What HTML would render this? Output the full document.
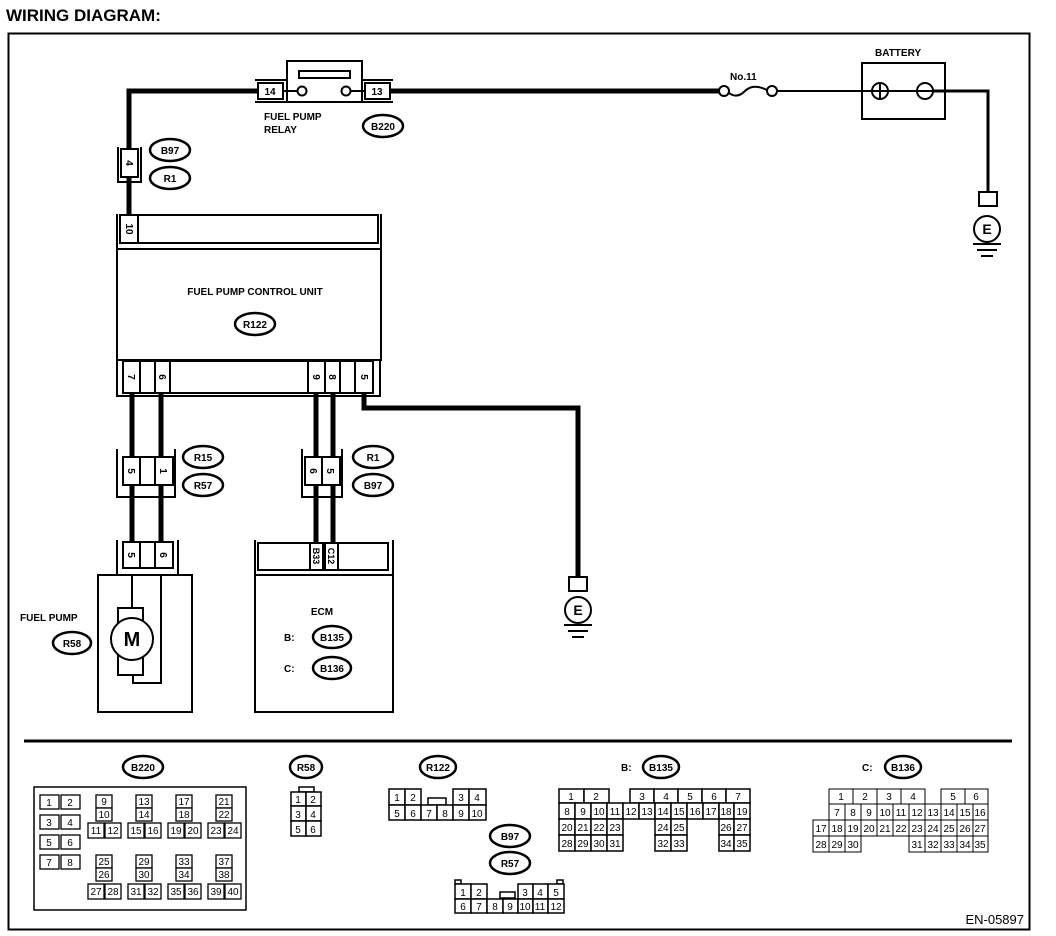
<!DOCTYPE html>
<html><head><meta charset="utf-8"><style>
html,body{margin:0;padding:0;background:#fff}
svg{display:block}
text{font-family:"Liberation Sans",sans-serif;font-weight:bold;fill:#000}
.c{font-size:10px;text-anchor:middle;font-weight:normal}
.o{font-size:10px;text-anchor:middle}
.l{font-size:10px}
</style></head><body>
<svg width="1056" height="936" viewBox="0 0 1056 936" xmlns="http://www.w3.org/2000/svg">
<text x="6" y="21" style="font-size:17px">WIRING DIAGRAM:</text>
<rect x="8.5" y="33.5" width="1021" height="896" fill="none" stroke="#000" stroke-width="2"/>
<line x1="24" y1="741" x2="1012" y2="741" stroke="#000" stroke-width="3"/>

<!-- main wires -->
<g stroke="#000" fill="none">
<polyline points="129,215 129,91 258,91" stroke-width="5"/>
<line x1="390" y1="91" x2="720" y2="91" stroke-width="5"/>
<line x1="776" y1="91" x2="926" y2="91" stroke-width="2"/>
<polyline points="926,91 988,91 988,193" stroke-width="3"/>
<line x1="132" y1="393" x2="132" y2="543" stroke-width="5"/>
<line x1="161" y1="393" x2="161" y2="543" stroke-width="5"/>
<line x1="316" y1="393" x2="316" y2="545" stroke-width="5"/>
<line x1="333" y1="393" x2="333" y2="545" stroke-width="5"/>
<polyline points="364,393 364,408 578,408 578,578" stroke-width="5"/>
</g>

<!-- relay -->
<g stroke="#000" fill="#fff" stroke-width="2">
<rect x="287" y="61" width="75" height="41"/>
<rect x="299" y="71" width="51" height="7" stroke-width="2"/>
<polyline points="255,80 286,80" fill="none"/>
<polyline points="255,102 286,102" fill="none"/>
<rect x="258" y="83" width="25" height="16"/>
<polyline points="363,80 393,80" fill="none"/>
<polyline points="363,102 393,102" fill="none"/>
<rect x="365" y="83" width="25" height="16"/>
<line x1="283" y1="91" x2="297" y2="91"/>
<line x1="350" y1="91" x2="365" y2="91"/>
<circle cx="302" cy="91" r="4.5"/>
<circle cx="346" cy="91" r="4.5"/>
</g>
<text class="c" x="270" y="95" style="font-weight:bold">14</text>
<text class="c" x="377" y="95" style="font-weight:bold">13</text>
<text class="l" x="264" y="120">FUEL PUMP</text>
<text class="l" x="264" y="133">RELAY</text>
<ellipse cx="383" cy="126" rx="20" ry="11" fill="#fff" stroke="#000" stroke-width="2.5"/>
<text class="o" x="383" y="130">B220</text>

<!-- fuse -->
<g stroke="#000" fill="#fff" stroke-width="2">
<circle cx="724" cy="91" r="5"/>
<circle cx="772" cy="91" r="5"/>
<path d="M729,93 Q737,99 745,91 Q753,83 767,90" fill="none"/>
</g>
<text class="l" x="730" y="80">No.11</text>

<!-- battery -->
<rect x="862" y="63" width="83" height="56" fill="none" stroke="#000" stroke-width="2"/>
<text class="l" x="875" y="56">BATTERY</text>
<g stroke="#000" fill="#fff" stroke-width="2">
<circle cx="880" cy="91" r="8"/>
<line x1="872" y1="91" x2="888" y2="91"/><line x1="880" y1="83" x2="880" y2="99"/>
<circle cx="925" cy="91" r="8"/>
<line x1="917" y1="91" x2="933" y2="91"/>
</g>
<!-- ground right -->
<g stroke="#000" fill="#fff" stroke-width="2">
<rect x="979" y="192" width="18" height="14"/>
<circle cx="987" cy="229" r="13"/>
<line x1="973" y1="244" x2="1001" y2="244"/>
<line x1="977" y1="250" x2="997" y2="250"/>
<line x1="981" y1="256" x2="993" y2="256"/>
</g>
<text x="987" y="234" style="font-size:14px;text-anchor:middle">E</text>
<!-- ground mid -->
<g stroke="#000" fill="#fff" stroke-width="2">
<rect x="569" y="577" width="18" height="14"/>
<circle cx="578" cy="610" r="13"/>
<line x1="564" y1="625" x2="592" y2="625"/>
<line x1="568" y1="631" x2="588" y2="631"/>
<line x1="572" y1="637" x2="584" y2="637"/>
</g>
<text x="578" y="615" style="font-size:14px;text-anchor:middle">E</text>

<!-- connector 4 (B97/R1) -->
<g stroke="#000" fill="#fff" stroke-width="2">
<polyline points="118,147 118,182 141,182 141,147" fill="none"/>
<rect x="121" y="149" width="17" height="28"/>
</g>
<text class="c" x="0" y="0" transform="translate(126,163) rotate(90)" style="font-weight:bold">4</text>
<ellipse cx="170" cy="150" rx="20" ry="11" fill="#fff" stroke="#000" stroke-width="2.5"/>
<text class="o" x="170" y="154">B97</text>
<ellipse cx="170" cy="178" rx="20" ry="11" fill="#fff" stroke="#000" stroke-width="2.5"/>
<text class="o" x="170" y="182">R1</text>

<!-- FPCU -->
<g stroke="#000" fill="none" stroke-width="2">
<polyline points="117,214 117,249 381,249 381,214"/>
<rect x="120" y="215" width="258" height="28" fill="#fff"/>
<line x1="138" y1="215" x2="138" y2="243"/>
<rect x="117" y="249" width="264" height="111" fill="#fff"/>
<polyline points="117,360 117,396 380,396 380,360"/>
<rect x="123" y="361" width="250" height="32" fill="#fff"/>
<line x1="140" y1="361" x2="140" y2="393"/>
<line x1="155" y1="361" x2="155" y2="393"/>
<line x1="170" y1="361" x2="170" y2="393"/>
<line x1="308" y1="361" x2="308" y2="393"/>
<line x1="325" y1="361" x2="325" y2="393"/>
<line x1="340" y1="361" x2="340" y2="393"/>
<line x1="355" y1="361" x2="355" y2="393"/>
</g>
<g class="c" style="font-weight:bold">
<text class="c" transform="translate(126,229) rotate(90)" style="font-weight:bold">10</text>
<text class="c" transform="translate(128,377) rotate(90)" style="font-weight:bold">7</text>
<text class="c" transform="translate(159,377) rotate(90)" style="font-weight:bold">6</text>
<text class="c" transform="translate(313,377) rotate(90)" style="font-weight:bold">9</text>
<text class="c" transform="translate(329,377) rotate(90)" style="font-weight:bold">8</text>
<text class="c" transform="translate(361,377) rotate(90)" style="font-weight:bold">5</text>
</g>
<text class="o" x="255" y="295">FUEL PUMP CONTROL UNIT</text>
<ellipse cx="255" cy="324" rx="20" ry="11" fill="#fff" stroke="#000" stroke-width="2.5"/>
<text class="o" x="255" y="328">R122</text>

<!-- R15/R57 connector -->
<g stroke="#000" fill="#fff" stroke-width="2">
<polyline points="117,449 117,497 175,497 175,449" fill="none"/>
<rect x="123" y="457" width="50" height="28"/>
<line x1="140" y1="457" x2="140" y2="485"/><line x1="155" y1="457" x2="155" y2="485"/>
<polyline points="302,449 302,497 342,497 342,449" fill="none"/>
<rect x="305" y="457" width="35" height="28"/>
<line x1="322" y1="457" x2="322" y2="485"/>
</g>
<text class="c" transform="translate(128,471) rotate(90)" style="font-weight:bold">5</text>
<text class="c" transform="translate(160,471) rotate(90)" style="font-weight:bold">1</text>
<text class="c" transform="translate(310,471) rotate(90)" style="font-weight:bold">6</text>
<text class="c" transform="translate(327,471) rotate(90)" style="font-weight:bold">5</text>
<ellipse cx="203" cy="457" rx="20" ry="11" fill="#fff" stroke="#000" stroke-width="2.5"/>
<text class="o" x="203" y="461">R15</text>
<ellipse cx="203" cy="485" rx="20" ry="11" fill="#fff" stroke="#000" stroke-width="2.5"/>
<text class="o" x="203" y="489">R57</text>
<ellipse cx="373" cy="457" rx="20" ry="11" fill="#fff" stroke="#000" stroke-width="2.5"/>
<text class="o" x="373" y="461">R1</text>
<ellipse cx="373" cy="485" rx="20" ry="11" fill="#fff" stroke="#000" stroke-width="2.5"/>
<text class="o" x="373" y="489">B97</text>

<!-- fuel pump -->
<g stroke="#000" fill="#fff" stroke-width="2">
<polyline points="117,540 117,575 178,575 178,540" fill="none"/>
<rect x="123" y="542" width="50" height="26"/>
<line x1="140" y1="542" x2="140" y2="568"/><line x1="155" y1="542" x2="155" y2="568"/>
<rect x="98" y="575" width="94" height="137"/>
<polyline points="132,575 132,608" fill="none"/>
<polyline points="161,575 161,683 133,683 133,675" fill="none"/>
<rect x="118" y="608" width="25" height="67"/>
<circle cx="132" cy="639" r="21"/>
</g>
<text class="c" transform="translate(128,555) rotate(90)" style="font-weight:bold">5</text>
<text class="c" transform="translate(160,555) rotate(90)" style="font-weight:bold">6</text>
<text x="132" y="646" style="font-size:20px;text-anchor:middle">M</text>
<text class="l" x="20" y="621">FUEL PUMP</text>
<ellipse cx="72" cy="643" rx="19" ry="11" fill="#fff" stroke="#000" stroke-width="2.5"/>
<text class="o" x="72" y="647">R58</text>

<!-- ECM -->
<g stroke="#000" fill="#fff" stroke-width="2">
<polyline points="255,540 255,575 393,575 393,540" fill="none"/>
<rect x="258" y="543" width="130" height="27"/>
<line x1="310" y1="543" x2="310" y2="570"/><line x1="323" y1="543" x2="323" y2="570"/>
<line x1="325" y1="543" x2="325" y2="570"/><line x1="338" y1="543" x2="338" y2="570"/>
<rect x="255" y="575" width="138" height="137"/>
</g>
<text class="c" transform="translate(313,556) rotate(90)" style="font-weight:bold;font-size:9px">B33</text>
<text class="c" transform="translate(328,556) rotate(90)" style="font-weight:bold;font-size:9px">C12</text>
<text class="o" x="322" y="615">ECM</text>
<text class="l" x="284" y="641">B:</text>
<ellipse cx="332" cy="637" rx="19" ry="11" fill="#fff" stroke="#000" stroke-width="2.5"/>
<text class="o" x="332" y="641">B135</text>
<text class="l" x="284" y="672">C:</text>
<ellipse cx="332" cy="668" rx="19" ry="11" fill="#fff" stroke="#000" stroke-width="2.5"/>
<text class="o" x="332" y="672">B136</text>

<!-- ===== bottom connector views ===== -->
<g fill="#fff" stroke="#000" stroke-width="2.5">
<ellipse cx="143" cy="767" rx="20" ry="11"/>
<ellipse cx="306" cy="767" rx="16" ry="11"/>
<ellipse cx="438" cy="767" rx="18" ry="11"/>
<ellipse cx="510" cy="836" rx="20" ry="11"/>
<ellipse cx="510" cy="863" rx="20" ry="11"/>
<ellipse cx="661" cy="767" rx="18" ry="11"/>
<ellipse cx="903" cy="767" rx="18" ry="11"/>
</g>
<text class="o" x="143" y="771">B220</text>
<text class="o" x="306" y="771">R58</text>
<text class="o" x="438" y="771">R122</text>
<text class="o" x="510" y="840">B97</text>
<text class="o" x="510" y="867">R57</text>
<text class="l" x="621" y="771">B:</text>
<text class="o" x="661" y="771">B135</text>
<text class="l" x="862" y="771">C:</text>
<text class="o" x="903" y="771">B136</text>

<rect x="34" y="787" width="212" height="123" fill="none" stroke="#000" stroke-width="1.5"/>
<g fill="#fff" stroke="#000" stroke-width="1.3">
<!-- B220 left pairs -->
<rect x="40" y="795" width="19" height="14"/><rect x="61" y="795" width="19" height="14"/>
<rect x="40" y="815" width="19" height="14"/><rect x="61" y="815" width="19" height="14"/>
<rect x="40" y="835" width="19" height="14"/><rect x="61" y="835" width="19" height="14"/>
<rect x="40" y="855" width="19" height="14"/><rect x="61" y="855" width="19" height="14"/>
<!-- groups upper -->
<rect x="96" y="795" width="16" height="13"/><rect x="96" y="808" width="16" height="13"/><rect x="88" y="823" width="16" height="15"/><rect x="105" y="823" width="16" height="15"/>
<rect x="136" y="795" width="16" height="13"/><rect x="136" y="808" width="16" height="13"/><rect x="128" y="823" width="16" height="15"/><rect x="145" y="823" width="16" height="15"/>
<rect x="176" y="795" width="16" height="13"/><rect x="176" y="808" width="16" height="13"/><rect x="168" y="823" width="16" height="15"/><rect x="185" y="823" width="16" height="15"/>
<rect x="216" y="795" width="16" height="13"/><rect x="216" y="808" width="16" height="13"/><rect x="208" y="823" width="16" height="15"/><rect x="225" y="823" width="16" height="15"/>
<!-- groups lower -->
<rect x="96" y="855" width="16" height="13"/><rect x="96" y="868" width="16" height="13"/><rect x="88" y="884" width="16" height="15"/><rect x="105" y="884" width="16" height="15"/>
<rect x="136" y="855" width="16" height="13"/><rect x="136" y="868" width="16" height="13"/><rect x="128" y="884" width="16" height="15"/><rect x="145" y="884" width="16" height="15"/>
<rect x="176" y="855" width="16" height="13"/><rect x="176" y="868" width="16" height="13"/><rect x="168" y="884" width="16" height="15"/><rect x="185" y="884" width="16" height="15"/>
<rect x="216" y="855" width="16" height="13"/><rect x="216" y="868" width="16" height="13"/><rect x="208" y="884" width="16" height="15"/><rect x="225" y="884" width="16" height="15"/>
</g>
<g class="c">
<text class="c" x="49" y="806">1</text><text class="c" x="70" y="806">2</text>
<text class="c" x="49" y="826">3</text><text class="c" x="70" y="826">4</text>
<text class="c" x="49" y="846">5</text><text class="c" x="70" y="846">6</text>
<text class="c" x="49" y="866">7</text><text class="c" x="70" y="866">8</text>
<text class="c" x="104" y="805">9</text><text class="c" x="104" y="818">10</text><text class="c" x="96" y="834">11</text><text class="c" x="113" y="834">12</text>
<text class="c" x="144" y="805">13</text><text class="c" x="144" y="818">14</text><text class="c" x="136" y="834">15</text><text class="c" x="153" y="834">16</text>
<text class="c" x="184" y="805">17</text><text class="c" x="184" y="818">18</text><text class="c" x="176" y="834">19</text><text class="c" x="193" y="834">20</text>
<text class="c" x="224" y="805">21</text><text class="c" x="224" y="818">22</text><text class="c" x="216" y="834">23</text><text class="c" x="233" y="834">24</text>
<text class="c" x="104" y="865">25</text><text class="c" x="104" y="878">26</text><text class="c" x="96" y="895">27</text><text class="c" x="113" y="895">28</text>
<text class="c" x="144" y="865">29</text><text class="c" x="144" y="878">30</text><text class="c" x="136" y="895">31</text><text class="c" x="153" y="895">32</text>
<text class="c" x="184" y="865">33</text><text class="c" x="184" y="878">34</text><text class="c" x="176" y="895">35</text><text class="c" x="193" y="895">36</text>
<text class="c" x="224" y="865">37</text><text class="c" x="224" y="878">38</text><text class="c" x="216" y="895">39</text><text class="c" x="233" y="895">40</text>
</g>

<!-- R58 -->
<g fill="#fff" stroke="#000" stroke-width="1.5">
<rect x="299" y="787" width="15" height="5"/>
<rect x="291" y="792" width="15" height="14"/><rect x="306" y="792" width="15" height="14"/>
<rect x="291" y="806" width="15" height="15"/><rect x="306" y="806" width="15" height="15"/>
<rect x="291" y="821" width="15" height="15"/><rect x="306" y="821" width="15" height="15"/>
</g>
<text class="c" x="298" y="803">1</text><text class="c" x="313" y="803">2</text>
<text class="c" x="298" y="818">3</text><text class="c" x="313" y="818">4</text>
<text class="c" x="298" y="833">5</text><text class="c" x="313" y="833">6</text>

<!-- R122 -->
<g fill="#fff" stroke="#000" stroke-width="1.5">
<rect x="428" y="798" width="18" height="7"/>
<rect x="389" y="789" width="16" height="16"/><rect x="405" y="789" width="16" height="16"/>
<rect x="453" y="789" width="16" height="16"/><rect x="469" y="789" width="17" height="16"/>
<rect x="389" y="805" width="16" height="15"/><rect x="405" y="805" width="16" height="15"/><rect x="421" y="805" width="16" height="15"/><rect x="437" y="805" width="16" height="15"/><rect x="453" y="805" width="16" height="15"/><rect x="469" y="805" width="17" height="15"/>
</g>
<text class="c" x="397" y="801">1</text><text class="c" x="413" y="801">2</text><text class="c" x="461" y="801">3</text><text class="c" x="477" y="801">4</text>
<text class="c" x="397" y="817">5</text><text class="c" x="413" y="817">6</text><text class="c" x="429" y="817">7</text><text class="c" x="445" y="817">8</text><text class="c" x="461" y="817">9</text><text class="c" x="477" y="817">10</text>

<!-- B97/R57 -->
<g fill="#fff" stroke="#000" stroke-width="1.5">
<rect x="455" y="880" width="6" height="4"/><rect x="557" y="880" width="6" height="4"/>
<rect x="500" y="892" width="15" height="6"/>
<rect x="455" y="884" width="16" height="15"/><rect x="471" y="884" width="16" height="15"/>
<rect x="518" y="884" width="15" height="15"/><rect x="533" y="884" width="15" height="15"/><rect x="548" y="884" width="16" height="15"/>
<rect x="455" y="899" width="16" height="14"/><rect x="471" y="899" width="16" height="14"/><rect x="487" y="899" width="16" height="14"/><rect x="503" y="899" width="15" height="14"/><rect x="518" y="899" width="15" height="14"/><rect x="533" y="899" width="15" height="14"/><rect x="548" y="899" width="16" height="14"/>
</g>
<text class="c" x="463" y="896">1</text><text class="c" x="479" y="896">2</text><text class="c" x="525" y="896">3</text><text class="c" x="540" y="896">4</text><text class="c" x="556" y="896">5</text>
<text class="c" x="463" y="910">6</text><text class="c" x="479" y="910">7</text><text class="c" x="495" y="910">8</text><text class="c" x="510" y="910">9</text><text class="c" x="525" y="910">10</text><text class="c" x="540" y="910">11</text><text class="c" x="556" y="910">12</text>

<!-- B135 -->
<g fill="#fff" stroke="#000" stroke-width="1.5">
<rect x="559" y="789" width="25" height="14"/><rect x="584" y="789" width="25" height="14"/>
<rect x="630" y="789" width="24" height="14"/><rect x="654" y="789" width="24" height="14"/><rect x="678" y="789" width="24" height="14"/><rect x="702" y="789" width="24" height="14"/><rect x="726" y="789" width="24" height="14"/>
<rect x="559" y="803" width="16" height="16"/><rect x="575" y="803" width="16" height="16"/><rect x="591" y="803" width="16" height="16"/><rect x="607" y="803" width="16" height="16"/><rect x="623" y="803" width="16" height="16"/><rect x="639" y="803" width="16" height="16"/><rect x="655" y="803" width="16" height="16"/><rect x="671" y="803" width="16" height="16"/><rect x="687" y="803" width="16" height="16"/><rect x="703" y="803" width="16" height="16"/><rect x="719" y="803" width="15" height="16"/><rect x="734" y="803" width="16" height="16"/>
<rect x="559" y="819" width="16" height="16"/><rect x="575" y="819" width="16" height="16"/><rect x="591" y="819" width="16" height="16"/><rect x="607" y="819" width="16" height="16"/>
<rect x="655" y="819" width="16" height="16"/><rect x="671" y="819" width="16" height="16"/>
<rect x="719" y="819" width="15" height="16"/><rect x="734" y="819" width="16" height="16"/>
<rect x="559" y="835" width="16" height="16"/><rect x="575" y="835" width="16" height="16"/><rect x="591" y="835" width="16" height="16"/><rect x="607" y="835" width="16" height="16"/>
<rect x="655" y="835" width="16" height="16"/><rect x="671" y="835" width="16" height="16"/>
<rect x="719" y="835" width="15" height="16"/><rect x="734" y="835" width="16" height="16"/>
</g>
<text class="c" x="571" y="800">1</text><text class="c" x="596" y="800">2</text><text class="c" x="642" y="800">3</text><text class="c" x="666" y="800">4</text><text class="c" x="690" y="800">5</text><text class="c" x="714" y="800">6</text><text class="c" x="738" y="800">7</text>
<text class="c" x="567" y="815">8</text><text class="c" x="583" y="815">9</text><text class="c" x="599" y="815">10</text><text class="c" x="615" y="815">11</text><text class="c" x="631" y="815">12</text><text class="c" x="647" y="815">13</text><text class="c" x="663" y="815">14</text><text class="c" x="679" y="815">15</text><text class="c" x="695" y="815">16</text><text class="c" x="711" y="815">17</text><text class="c" x="726" y="815">18</text><text class="c" x="742" y="815">19</text>
<text class="c" x="567" y="831">20</text><text class="c" x="583" y="831">21</text><text class="c" x="599" y="831">22</text><text class="c" x="615" y="831">23</text><text class="c" x="663" y="831">24</text><text class="c" x="679" y="831">25</text><text class="c" x="726" y="831">26</text><text class="c" x="742" y="831">27</text>
<text class="c" x="567" y="847">28</text><text class="c" x="583" y="847">29</text><text class="c" x="599" y="847">30</text><text class="c" x="615" y="847">31</text><text class="c" x="663" y="847">32</text><text class="c" x="679" y="847">33</text><text class="c" x="726" y="847">34</text><text class="c" x="742" y="847">35</text>

<!-- B136 -->
<g fill="#fff" stroke="#000" stroke-width="1">
<rect x="829" y="789" width="24" height="15"/><rect x="853" y="789" width="24" height="15"/><rect x="877" y="789" width="24" height="15"/><rect x="901" y="789" width="24" height="15"/>
<rect x="941" y="789" width="24" height="15"/><rect x="965" y="789" width="23" height="15"/>
<rect x="829" y="804" width="16" height="16"/><rect x="845" y="804" width="16" height="16"/><rect x="861" y="804" width="16" height="16"/><rect x="877" y="804" width="16" height="16"/><rect x="893" y="804" width="16" height="16"/><rect x="909" y="804" width="16" height="16"/><rect x="925" y="804" width="16" height="16"/><rect x="941" y="804" width="16" height="16"/><rect x="957" y="804" width="16" height="16"/><rect x="973" y="804" width="15" height="16"/>
<rect x="813" y="820" width="16" height="16"/><rect x="829" y="820" width="16" height="16"/><rect x="845" y="820" width="16" height="16"/><rect x="861" y="820" width="16" height="16"/><rect x="877" y="820" width="16" height="16"/><rect x="893" y="820" width="16" height="16"/><rect x="909" y="820" width="16" height="16"/><rect x="925" y="820" width="16" height="16"/><rect x="941" y="820" width="16" height="16"/><rect x="957" y="820" width="16" height="16"/><rect x="973" y="820" width="15" height="16"/>
<rect x="813" y="836" width="16" height="16"/><rect x="829" y="836" width="16" height="16"/><rect x="845" y="836" width="16" height="16"/>
<rect x="909" y="836" width="16" height="16"/><rect x="925" y="836" width="16" height="16"/><rect x="941" y="836" width="16" height="16"/><rect x="957" y="836" width="16" height="16"/><rect x="973" y="836" width="15" height="16"/>
</g>
<text class="c" x="841" y="800">1</text><text class="c" x="865" y="800">2</text><text class="c" x="889" y="800">3</text><text class="c" x="913" y="800">4</text><text class="c" x="953" y="800">5</text><text class="c" x="976" y="800">6</text>
<text class="c" x="837" y="816">7</text><text class="c" x="853" y="816">8</text><text class="c" x="869" y="816">9</text><text class="c" x="885" y="816">10</text><text class="c" x="901" y="816">11</text><text class="c" x="917" y="816">12</text><text class="c" x="933" y="816">13</text><text class="c" x="949" y="816">14</text><text class="c" x="965" y="816">15</text><text class="c" x="980" y="816">16</text>
<text class="c" x="821" y="832">17</text><text class="c" x="837" y="832">18</text><text class="c" x="853" y="832">19</text><text class="c" x="869" y="832">20</text><text class="c" x="885" y="832">21</text><text class="c" x="901" y="832">22</text><text class="c" x="917" y="832">23</text><text class="c" x="933" y="832">24</text><text class="c" x="949" y="832">25</text><text class="c" x="965" y="832">26</text><text class="c" x="980" y="832">27</text>
<text class="c" x="821" y="848">28</text><text class="c" x="837" y="848">29</text><text class="c" x="853" y="848">30</text><text class="c" x="917" y="848">31</text><text class="c" x="933" y="848">32</text><text class="c" x="949" y="848">33</text><text class="c" x="965" y="848">34</text><text class="c" x="980" y="848">35</text>

<text x="1024" y="924" style="font-size:13px;text-anchor:end;font-weight:normal">EN-05897</text>
</svg>
</body></html>
